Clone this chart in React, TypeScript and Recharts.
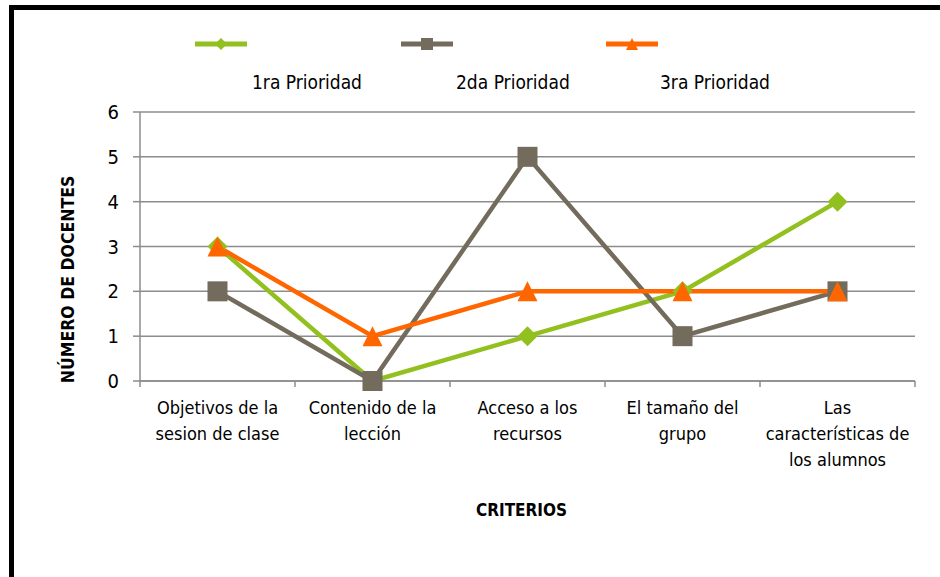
import React from 'react'
import { LineChart, Line, XAxis, YAxis, CartesianGrid, Legend } from 'recharts'

const CRITERIOS = [
  'Objetivos de la\nsesion de clase',
  'Contenido de la\nlección',
  'Acceso a los\nrecursos',
  'El tamaño del\ngrupo',
  'Las\ncaracterísticas de\nlos alumnos',
]
const PRIORIDAD_1 = [3, 0, 1, 2, 4]
const PRIORIDAD_2 = [2, 0, 5, 1, 2]
const PRIORIDAD_3 = [3, 1, 2, 2, 2]
const Y_TICKS = [0, 1, 2, 3, 4, 5, 6]

const SERIES = [
  { key: 'p1', nombre: '1ra Prioridad', color: '#92C01F', marca: 'diamond' },
  { key: 'p2', nombre: '2da Prioridad', color: '#736B5C', marca: 'square' },
  { key: 'p3', nombre: '3ra Prioridad', color: '#FF6600', marca: 'triangle' },
]

const FONT = '"Liberation Sans Narrow", "DejaVu Sans Condensed", Arial, sans-serif'
const GRID = '#8c8c8c'
const W = 940
const H = 577
const MARGIN = { top: 112, right: 25, left: 80, bottom: 66 }
const Y_WIDTH = 60
const X_HEIGHT = 130
const BAND = (W - MARGIN.left - Y_WIDTH - MARGIN.right) / CRITERIOS.length

const data = CRITERIOS.map((c, i) => ({
  criterio: c,
  p1: PRIORIDAD_1[i],
  p2: PRIORIDAD_2[i],
  p3: PRIORIDAD_3[i],
}))

function marcaPath(tipo: string, cx: number, cy: number, r: number) {
  if (tipo === 'diamond') return `M${cx},${cy - r}L${cx + r},${cy}L${cx},${cy + r}L${cx - r},${cy}Z`
  if (tipo === 'square') return `M${cx - r},${cy - r}h${2 * r}v${2 * r}h${-2 * r}Z`
  return `M${cx},${cy - r}L${cx + r},${cy + r}L${cx - r},${cy + r}Z`
}

const makeDot = (tipo: string, color: string) => (props: any) => {
  const { cx, cy, index } = props
  if (cx == null || cy == null) return <g key={index} />
  return <path key={index} d={marcaPath(tipo, cx, cy, 10)} fill={color} />
}

function CriterioTick(props: any) {
  const { x, y, payload, index } = props
  const lineas = String(payload.value).split('\n')
  return (
    <g>
      <line x1={x - BAND / 2} x2={x - BAND / 2} y1={y} y2={y + 6} stroke={GRID} strokeWidth={1.5} />
      {index === CRITERIOS.length - 1 && (
        <line x1={x + BAND / 2} x2={x + BAND / 2} y1={y} y2={y + 6} stroke={GRID} strokeWidth={1.5} />
      )}
      <text x={x} y={y + 33} textAnchor="middle" fontSize={18} fontFamily={FONT} fill="#000">
        {lineas.map((l, i) => (
          <tspan key={i} x={x} dy={i === 0 ? 0 : 26}>{l}</tspan>
        ))}
      </text>
    </g>
  )
}

function LeyendaCustom(props: any) {
  const { payload = [] } = props
  return (
    <div style={{ position: 'relative', width: W, height: 100, fontFamily: FONT }}>
      {payload.map((p: any, i: number) => {
        const s = SERIES.find(s => s.key === p.dataKey) ?? SERIES[i]
        return (
          <React.Fragment key={s.key}>
            <svg width={52} height={16} style={{ position: 'absolute', left: 195 + i * 205.5, top: 36 }}>
              <line x1={0} x2={52} y1={8} y2={8} stroke={s.color} strokeWidth={5} />
              <path d={marcaPath(s.marca, 26, 8, 6)} fill={s.color} />
            </svg>
            <span style={{ position: 'absolute', left: 252 + i * 204, top: 71, fontSize: 19, color: '#000', whiteSpace: 'nowrap' }}>
              {s.nombre}
            </span>
          </React.Fragment>
        )
      })}
    </div>
  )
}

export default function App() {
  return (
    <div style={{ position: 'fixed', left: 0, top: 0, width: W, height: H, overflow: 'hidden', background: '#fff' }}>
      <div style={{ position: 'absolute', left: 9, top: 5, width: 1000, height: 700, border: '5px solid #000', boxSizing: 'border-box' }} />
      <div style={{ position: 'absolute', left: 0, top: 0 }}>
        <LineChart width={W} height={H} data={data} margin={MARGIN}>
          <CartesianGrid vertical={false} stroke={GRID} strokeWidth={1.5} />
          <XAxis
            dataKey="criterio"
            scale="band"
            interval={0}
            height={X_HEIGHT}
            stroke={GRID}
            strokeWidth={1.5}
            tickLine={false}
            tickSize={0}
            tickMargin={0}
            tick={<CriterioTick />}
            label={(lp: any) => {
              const vb = lp.viewBox
              return (
                <text x={vb.x + vb.width / 2 - 6} y={vb.y + 135} textAnchor="middle" fontSize={17} fontWeight="bold" fontFamily={FONT} fill="#000">
                  CRITERIOS
                </text>
              )
            }}
          />
          <YAxis
            width={Y_WIDTH}
            domain={[0, 6]}
            ticks={Y_TICKS}
            interval={0}
            stroke={GRID}
            strokeWidth={1.5}
            tickSize={7}
            tickMargin={14}
            tick={{ fontSize: 20, fill: '#000', fontFamily: FONT }}
            label={(lp: any) => {
              const vb = lp.viewBox
              const cx = vb.x - 12
              const cy = vb.y + vb.height / 2 + 33
              return (
                <text x={cx} y={cy} transform={`rotate(-90, ${cx}, ${cy})`} textAnchor="middle" dominantBaseline="central" fontSize={17.5} fontWeight="bold" fontFamily={FONT} fill="#000">
                  NÚMERO DE DOCENTES
                </text>
              )
            }}
          />
          <Legend
            layout="horizontal"
            verticalAlign="middle"
            align="center"
            wrapperStyle={{ left: 0, top: 0, width: W, height: 100 }}
            content={<LeyendaCustom />}
          />
          {SERIES.map(s => (
            <Line
              key={s.key}
              dataKey={s.key}
              name={s.nombre}
              type="linear"
              stroke={s.color}
              strokeWidth={4.5}
              dot={makeDot(s.marca, s.color)}
              activeDot={false}
              isAnimationActive={false}
            />
          ))}
        </LineChart>
      </div>
    </div>
  )
}
